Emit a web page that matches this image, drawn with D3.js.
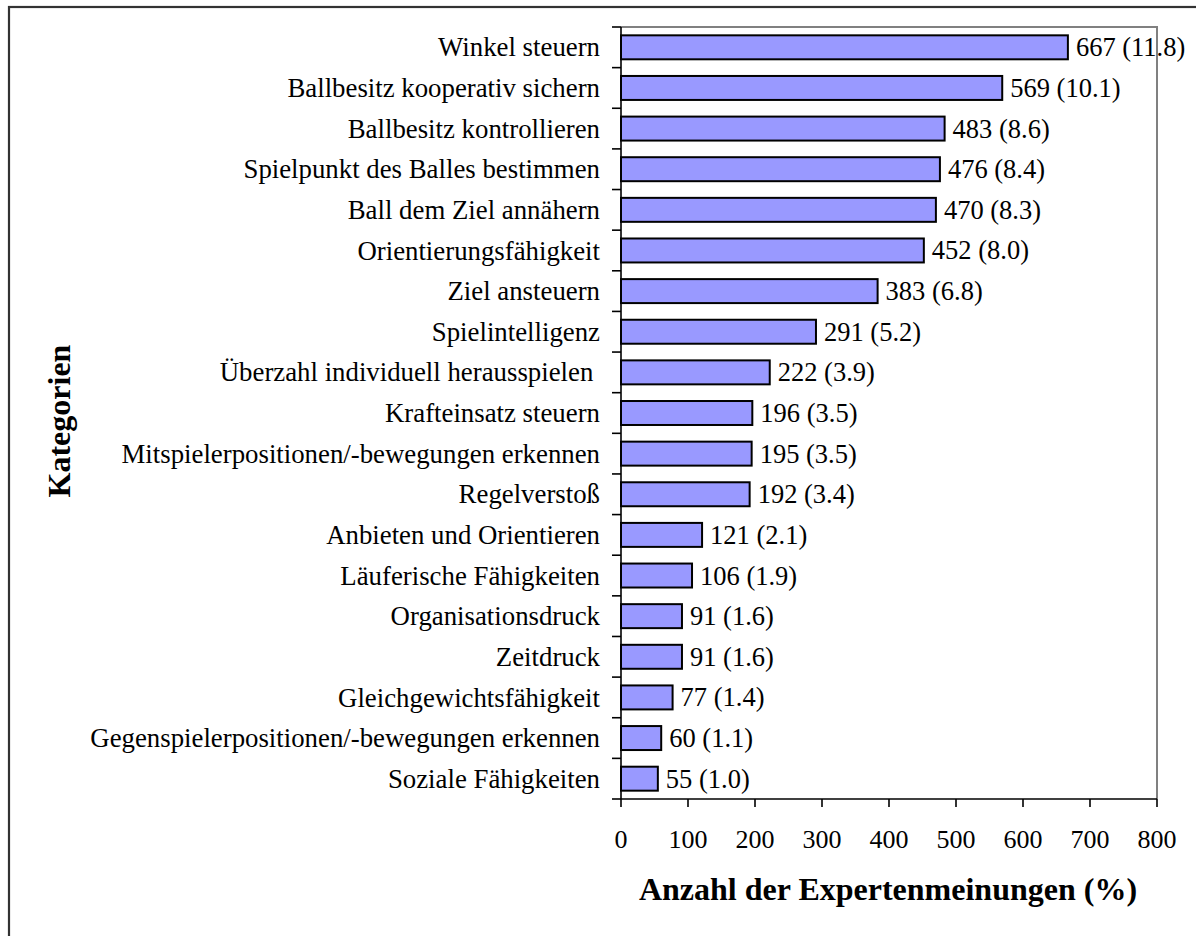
<!DOCTYPE html>
<html><head><meta charset="utf-8">
<script src="https://cdn.jsdelivr.net/npm/d3@7"></script>
<style>
html,body{margin:0;padding:0;background:#fff;}
svg{display:block;}
text{font-family:"Liberation Serif","Times New Roman",serif;fill:#000;white-space:pre;}
</style></head><body>
<svg id="c" width="1196" height="936"></svg>
<script>
const categories = ["Winkel steuern","Ballbesitz kooperativ sichern","Ballbesitz kontrollieren","Spielpunkt des Balles bestimmen","Ball dem Ziel annähern","Orientierungsfähigkeit","Ziel ansteuern","Spielintelligenz","Überzahl individuell herausspielen ","Krafteinsatz steuern","Mitspielerpositionen/-bewegungen erkennen","Regelverstoß","Anbieten und Orientieren","Läuferische Fähigkeiten","Organisationsdruck","Zeitdruck","Gleichgewichtsfähigkeit","Gegenspielerpositionen/-bewegungen erkennen","Soziale Fähigkeiten"];
const counts = [667,569,483,476,470,452,383,291,222,196,195,192,121,106,91,91,77,60,55];
const percents = ["11.8","10.1","8.6","8.4","8.3","8.0","6.8","5.2","3.9","3.5","3.5","3.4","2.1","1.9","1.6","1.6","1.4","1.1","1.0"];
const xTicks = [0,100,200,300,400,500,600,700,800];
const xTitle = "Anzahl der Expertenmeinungen (%)";
const yTitle = "Kategorien";

const svg = d3.select("#c");
const L = 621, R = 1157, T = 27, B = 799;
const x = d3.scaleLinear().domain([0,800]).range([L,R]);
const y = d3.scaleBand().domain(categories).range([T,B]).paddingInner(0.41).paddingOuter(0.205);
const yb = d3.scaleBand().domain(categories).range([T,B]);

// outer border
svg.append("rect").attr("x",9).attr("y",7).attr("width",1200).attr("height",1000)
  .attr("fill","none").attr("stroke","#333").attr("stroke-width",2.2);

// bars
svg.selectAll("rect.bar").data(categories).enter().append("rect").attr("class","bar")
  .attr("x",x(0)).attr("y",d=>y(d)).attr("height",y.bandwidth())
  .attr("width",(d,i)=>x(counts[i])-x(0))
  .attr("fill","#9999FF").attr("stroke","#000").attr("stroke-width",2);

// value labels
svg.selectAll("text.val").data(categories).enter().append("text").attr("class","val")
  .attr("x",(d,i)=>x(counts[i])+8).attr("y",d=>yb(d)+yb.bandwidth()/2).attr("dy","0.34em")
  .attr("font-size",26.5).text((d,i)=>counts[i]+" ("+percents[i]+")");

// frame top/right gray
svg.append("path").attr("d",`M${L},${T}H${R}V${B}`).attr("fill","none").attr("stroke","#808080").attr("stroke-width",2);

// y axis
const yAxis = svg.append("g");
yAxis.append("line").attr("x1",L).attr("x2",L).attr("y1",T).attr("y2",B).attr("stroke","#000").attr("stroke-width",1.6);
const bounds = categories.map(c=>yb(c)).concat([B]);
yAxis.selectAll("line.t").data(bounds).enter().append("line").attr("class","t")
  .attr("x1",L-9).attr("x2",L).attr("y1",d=>d).attr("y2",d=>d).attr("stroke","#000").attr("stroke-width",1.6);
yAxis.selectAll("text").data(categories).enter().append("text")
  .attr("x",600).attr("y",d=>yb(d)+yb.bandwidth()/2).attr("dy","0.34em")
  .attr("text-anchor","end").attr("font-size",26.8).text(d=>d);

// x axis
const xAxis = svg.append("g");
xAxis.append("line").attr("x1",L).attr("x2",R).attr("y1",B).attr("y2",B).attr("stroke","#000").attr("stroke-width",1.6);
xAxis.selectAll("line.t").data(xTicks).enter().append("line").attr("class","t")
  .attr("x1",d=>x(d)).attr("x2",d=>x(d)).attr("y1",B).attr("y2",B+8).attr("stroke","#000").attr("stroke-width",1.6);
xAxis.selectAll("text").data(xTicks).enter().append("text")
  .attr("x",d=>x(d)).attr("y",848).attr("text-anchor","middle").attr("font-size",26).text(d=>d);

// titles
svg.append("text").attr("x",888).attr("y",900).attr("text-anchor","middle")
  .attr("font-size",32).attr("font-weight","bold").text(xTitle);
svg.append("text").attr("transform","translate(70,421) rotate(-90)").attr("text-anchor","middle")
  .attr("font-size",32).attr("font-weight","bold").text(yTitle);
</script>
</body></html>
